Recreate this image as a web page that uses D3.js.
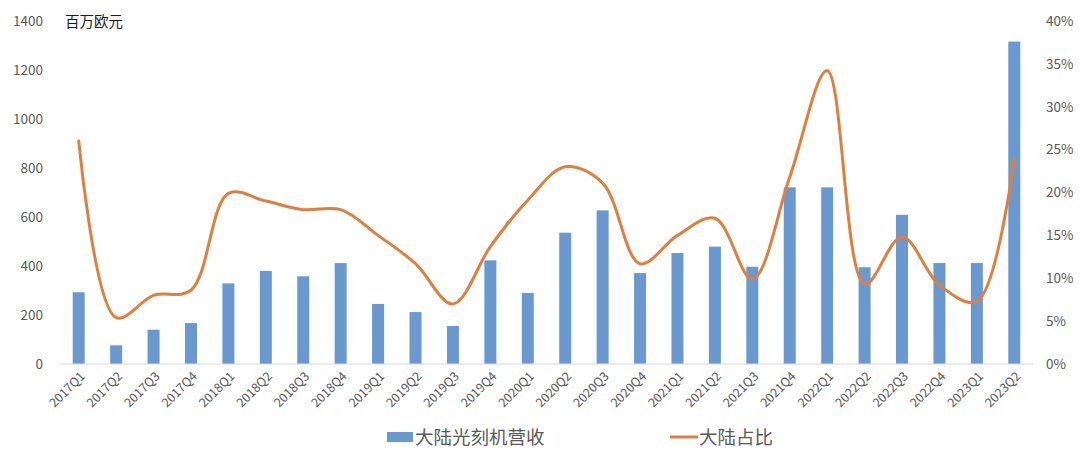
<!DOCTYPE html>
<html>
<head>
<meta charset="utf-8">
<script src="https://cdn.jsdelivr.net/npm/d3@7"></script>
<style>
  body { margin: 0; background: #fff; }
  text { font-family: "Noto Sans CJK SC", "Noto Sans", sans-serif; }
</style>
</head>
<body>
<div id="chart"></div>
<script>
// quarters, revenue (million EUR) and share of mainland China
var quarters = ["2017Q1", "2017Q2", "2017Q3", "2017Q4", "2018Q1", "2018Q2", "2018Q3", "2018Q4",
                "2019Q1", "2019Q2", "2019Q3", "2019Q4", "2020Q1", "2020Q2", "2020Q3", "2020Q4",
                "2021Q1", "2021Q2", "2021Q3", "2021Q4", "2022Q1", "2022Q2", "2022Q3", "2022Q4",
                "2023Q1", "2023Q2"];
var revenue = [293, 76, 140, 167, 329, 380, 358, 412,
               245, 212, 155, 423, 290, 536, 627, 371,
               453, 479, 397, 721, 721, 395, 609, 412,
               412, 1316];
var share = [26.0, 5.4, 8.0, 8.6, 19.9, 19.0, 18.0, 18.0,
             15.0, 11.7, 7.0, 13.7, 19.1, 23.0, 21.1, 11.7,
             15.0, 17.0, 9.9, 21.8, 34.2, 9.3, 14.8, 9.2,
             7.3, 23.9];
var leftTicks = [0, 200, 400, 600, 800, 1000, 1200, 1400];
var rightTicks = [0, 5, 10, 15, 20, 25, 30, 35, 40];

var w = 1080;
var h = 458;
var plotLeft = 60, plotRight = 1033, plotTop = 21, plotBottom = 364;

var svg = d3.select("#chart").append("svg")
            .attr("width", w)
            .attr("height", h);

var x = d3.scaleBand().domain(quarters).range([plotLeft, plotRight]);
var yL = d3.scaleLinear().domain([0, 1400]).range([plotBottom, plotTop]);
var yR = d3.scaleLinear().domain([0, 40]).range([plotBottom, plotTop]);

// bars
svg.selectAll("rect.bar")
   .data(revenue)
   .enter()
   .append("rect")
   .attr("class", "bar")
   .attr("x", (d, i) => x(quarters[i]) + x.bandwidth()/2 - 6)
   .attr("width", 12)
   .attr("y", d => yL(d))
   .attr("height", d => plotBottom - yL(d))
   .attr("fill", "#6a99d0");

// base line
svg.append("line")
   .attr("x1", plotLeft).attr("x2", plotRight)
   .attr("y1", plotBottom).attr("y2", plotBottom)
   .attr("stroke", "#d9d9d9")
   .attr("stroke-width", 1);

// smoothed share line
var line = d3.line()
             .x((d, i) => x(quarters[i]) + x.bandwidth()/2)
             .y(d => yR(d))
             .curve(d3.curveCatmullRom.alpha(0.5));
svg.append("path")
   .datum(share)
   .attr("d", line)
   .attr("fill", "none")
   .attr("stroke", "#e07f3c")
   .attr("stroke-width", 3)
   .attr("stroke-linecap", "round");

// left axis
var axL = svg.append("g")
             .attr("transform", "translate(43,0)")
             .call(d3.axisLeft(yL).tickValues(leftTicks).tickSize(0).tickPadding(0)
                                  .tickFormat(d3.format("d")));
axL.select(".domain").remove();
axL.selectAll("text").attr("font-size", "13.5px").attr("fill", "#595959");

// right axis
var axR = svg.append("g")
             .attr("transform", "translate(1046,0)")
             .call(d3.axisRight(yR).tickValues(rightTicks).tickSize(0).tickPadding(0)
                                   .tickFormat(d => d + "%"));
axR.select(".domain").remove();
axR.selectAll("text").attr("font-size", "13.5px").attr("fill", "#595959");

// x axis labels
var axX = svg.append("g")
             .attr("transform", "translate(0," + plotBottom + ")")
             .call(d3.axisBottom(x).tickSize(0).tickPadding(0));
axX.select(".domain").remove();
axX.selectAll("text")
   .attr("font-size", "12.5px")
   .attr("fill", "#595959")
   .attr("text-anchor", "end")
   .attr("dy", "0")
   .attr("transform", "translate(7,13) rotate(-45)");

// unit label
svg.append("text")
   .attr("x", 65).attr("y", 27)
   .attr("font-size", "14.5px")
   .attr("fill", "#1a1a1a")
   .text("百万欧元");

// legend
var legend = svg.append("g");
legend.append("rect")
      .attr("x", 387).attr("y", 432)
      .attr("width", 26).attr("height", 10)
      .attr("fill", "#6a99d0");
legend.append("text")
      .attr("x", 415).attr("y", 444)
      .attr("font-size", "18.5px")
      .attr("fill", "#595959")
      .text("大陆光刻机营收");
legend.append("line")
      .attr("x1", 670).attr("x2", 698)
      .attr("y1", 437).attr("y2", 437)
      .attr("stroke", "#e07f3c")
      .attr("stroke-width", 3);
legend.append("text")
      .attr("x", 699).attr("y", 444)
      .attr("font-size", "18.5px")
      .attr("fill", "#595959")
      .text("大陆占比");
</script>
</body>
</html>
